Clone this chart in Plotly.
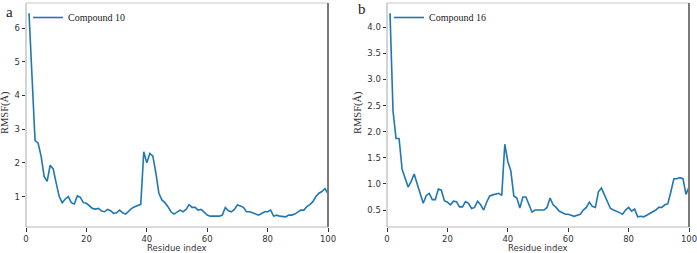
import plotly.graph_objects as go

residues = list(range(1, 101))

rmsf_compound10 = [
    6.44, 4.30, 2.66, 2.59, 2.20, 1.60, 1.45, 1.93, 1.82, 1.40,
    1.00, 0.82, 0.93, 1.00, 0.82, 0.78, 1.02, 0.98, 0.82, 0.80,
    0.72, 0.65, 0.63, 0.65, 0.57, 0.55, 0.62, 0.58, 0.50, 0.52,
    0.60, 0.52, 0.48, 0.58, 0.65, 0.70, 0.74, 0.77, 2.33, 2.00,
    2.28, 2.20, 1.70, 1.10, 0.90, 0.82, 0.70, 0.55, 0.48, 0.55,
    0.60, 0.55, 0.62, 0.76, 0.68, 0.68, 0.60, 0.62, 0.52, 0.45,
    0.42, 0.42, 0.42, 0.42, 0.45, 0.68, 0.58, 0.55, 0.62, 0.75,
    0.72, 0.68, 0.55, 0.55, 0.52, 0.48, 0.45, 0.50, 0.55, 0.55,
    0.60, 0.42, 0.45, 0.42, 0.42, 0.40, 0.45, 0.45, 0.48, 0.55,
    0.60, 0.60, 0.70, 0.76, 0.85, 1.00, 1.10, 1.15, 1.24, 1.08,
]

rmsf_compound16 = [
    4.27, 2.39, 1.87, 1.87, 1.28, 1.10, 0.94, 1.05, 1.19, 1.00,
    0.80, 0.63, 0.78, 0.82, 0.70, 0.70, 0.90, 0.88, 0.68, 0.65,
    0.60, 0.67, 0.66, 0.56, 0.56, 0.66, 0.63, 0.53, 0.55, 0.67,
    0.60, 0.50, 0.65, 0.77, 0.79, 0.80, 0.82, 0.78, 1.76, 1.43,
    1.25, 0.77, 0.73, 0.54, 0.75, 0.75, 0.62, 0.46, 0.50, 0.50,
    0.50, 0.50, 0.55, 0.73, 0.60, 0.55, 0.48, 0.45, 0.42, 0.42,
    0.40, 0.38, 0.40, 0.42, 0.50, 0.55, 0.65, 0.57, 0.55, 0.85,
    0.92, 0.80, 0.65, 0.53, 0.50, 0.48, 0.45, 0.42, 0.50, 0.55,
    0.48, 0.52, 0.37, 0.38, 0.37, 0.40, 0.43, 0.47, 0.50, 0.55,
    0.55, 0.60, 0.62, 0.85, 1.10, 1.10, 1.12, 1.10, 0.80, 0.94,
]

x_ticks = [0, 20, 40, 60, 80, 100]
y_ticks_a = [1, 2, 3, 4, 5, 6]
y_ticks_b = [0.5, 1.0, 1.5, 2.0, 2.5, 3.0, 3.5, 4.0]

W, H = 697, 253
LINE = "#1f77b4"
SERIF = "Liberation Serif, Times New Roman, serif"
SANS = "DejaVu Sans, sans-serif"


def auto_range(vals):
    lo, hi = min(vals), max(vals)
    pad = 0.05 * (hi - lo)
    return [lo - pad, hi + pad]


def px_x(p):
    return p / W


def px_y(p):
    return (H - p) / H


dom_a = [px_x(26), px_x(328)]
dom_b = [px_x(387), px_x(689)]
dom_y = [px_y(227), px_y(3)]

fig = go.Figure()
fig.add_trace(go.Scatter(x=residues, y=rmsf_compound10, mode="lines",
                         line=dict(color=LINE, width=1.6), name="Compound 10",
                         xaxis="x", yaxis="y", legend="legend"))
fig.add_trace(go.Scatter(x=residues, y=rmsf_compound16, mode="lines",
                         line=dict(color=LINE, width=1.6), name="Compound 16",
                         xaxis="x2", yaxis="y2", legend="legend2"))

axis_common = dict(showgrid=False, zeroline=False, showline=False, automargin=False,
                   ticks="outside", ticklen=3.5, tickwidth=0.8, tickcolor="#333",
                   ticklabeloverflow="allow",
                   tickfont=dict(family=SANS, size=8.5, color="#333"))

fig.update_layout(
    width=W, height=H,
    margin=dict(l=0, r=0, t=0, b=0, pad=0),
    paper_bgcolor="white", plot_bgcolor="white",
    xaxis=dict(domain=dom_a, range=[0, 100], tickvals=x_ticks, anchor="y", **axis_common),
    yaxis=dict(domain=dom_y, range=auto_range(rmsf_compound10), tickvals=y_ticks_a,
               anchor="x", **axis_common),
    xaxis2=dict(domain=dom_b, range=[0, 100], tickvals=x_ticks, anchor="y2", **axis_common),
    yaxis2=dict(domain=dom_y, range=auto_range(rmsf_compound16), tickvals=y_ticks_b,
                tickformat=".1f", anchor="x2", **axis_common),
    showlegend=True,
    legend=dict(x=px_x(28), y=px_y(3), xanchor="left", yanchor="top",
                bgcolor="rgba(0,0,0,0)", borderwidth=0,
                font=dict(family=SERIF, size=10, color="#222")),
    legend2=dict(x=px_x(389), y=px_y(3), xanchor="left", yanchor="top",
                 bgcolor="rgba(0,0,0,0)", borderwidth=0,
                 font=dict(family=SERIF, size=10, color="#222")),
)

# spines: light left/bottom/top, darker right
for xd, yd in (("x domain", "y domain"), ("x2 domain", "y2 domain")):
    fig.add_shape(type="line", xref=xd, yref=yd, x0=0, x1=0, y0=0, y1=1,
                  line=dict(color="#b8b8b8", width=1.2))
    fig.add_shape(type="line", xref=xd, yref=yd, x0=0, x1=1, y0=0, y1=0,
                  line=dict(color="#b8b8b8", width=1.2))
    fig.add_shape(type="line", xref=xd, yref=yd, x0=0, x1=1, y0=1, y1=1,
                  line=dict(color="#c8c8c8", width=1.2))
    fig.add_shape(type="line", xref=xd, yref=yd, x0=1, x1=1, y0=0, y1=1,
                  line=dict(color="#7a7a7a", width=2))

ann = dict(xref="paper", yref="paper", showarrow=False, xanchor="center", yanchor="middle")

# axis titles
for cx in (177, 538):
    fig.add_annotation(text="Residue index", x=px_x(cx), y=px_y(248),
                       font=dict(family=SANS, size=8.5, color="#333"), **ann)
for cx in (5, 358):
    fig.add_annotation(text="RMSF(Å)", x=px_x(cx), y=px_y(113), textangle=-90,
                       font=dict(family=SERIF, size=10.5, color="#333"), **ann)

# panel letters
fig.add_annotation(text="a", x=px_x(9), y=px_y(12),
                   font=dict(family=SERIF, size=15, color="#222"), **ann)
fig.add_annotation(text="b", x=px_x(362), y=px_y(9),
                   font=dict(family=SERIF, size=15, color="#222"), **ann)

fig.write_html("out.html", config={"displayModeBar": False},
               post_script="document.body.style.margin='0';document.body.style.overflow='hidden';")
